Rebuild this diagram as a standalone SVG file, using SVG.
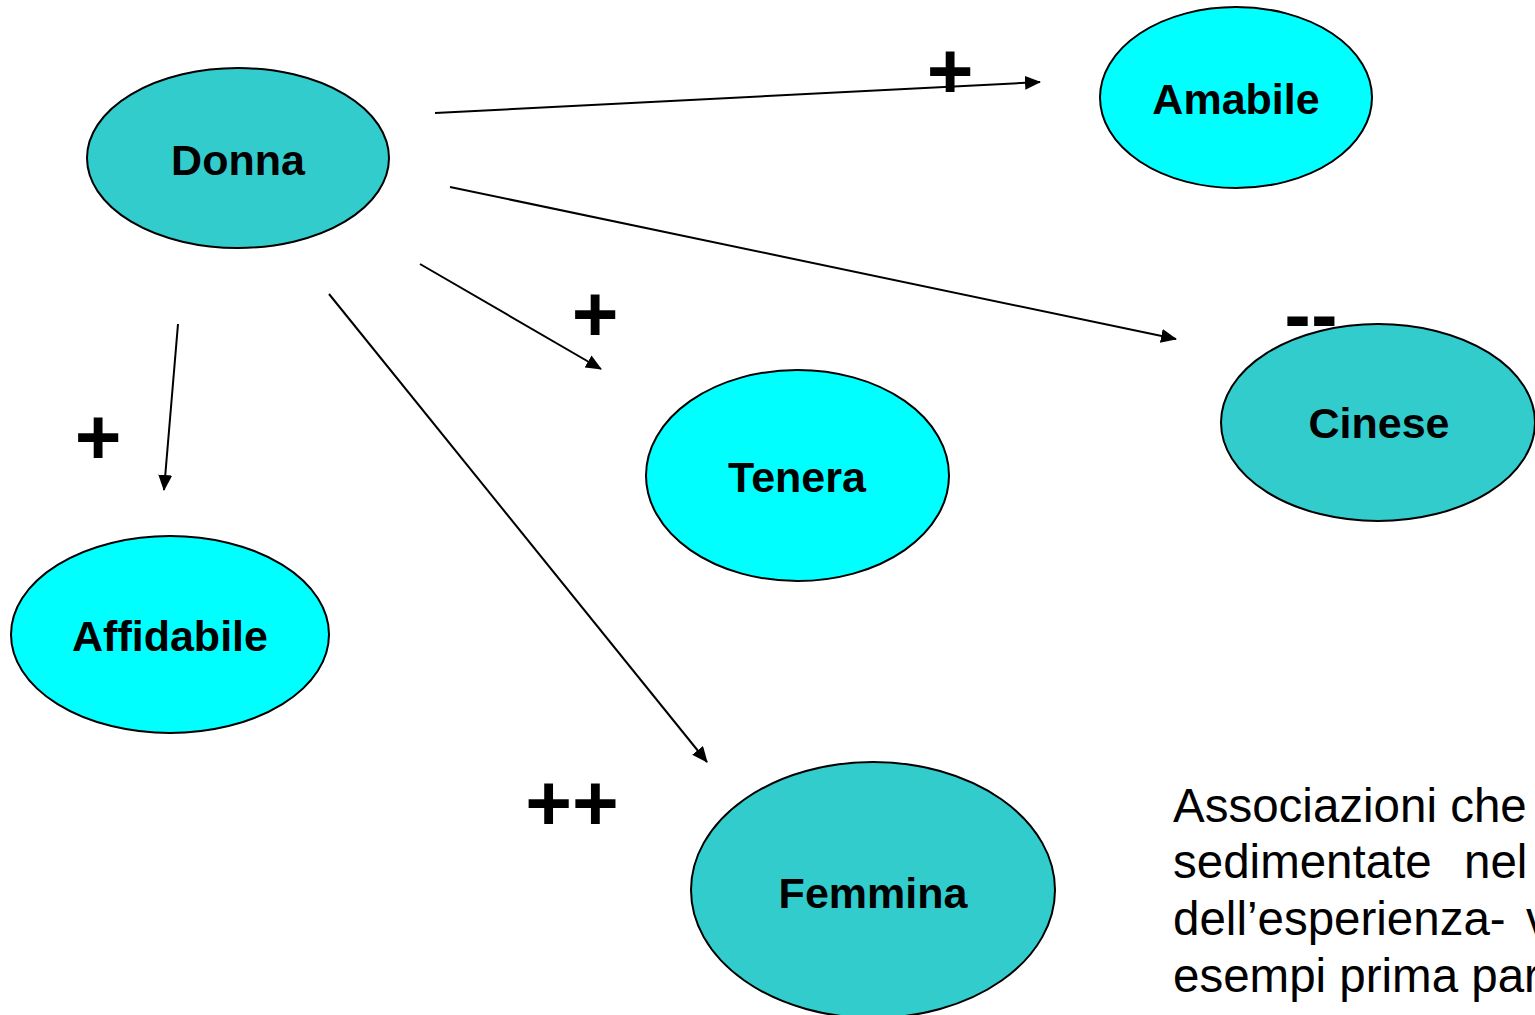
<svg xmlns="http://www.w3.org/2000/svg" width="1535" height="1015" viewBox="0 0 1535 1015">
<style>
.teal{fill:#33CCCC;stroke:#000;stroke-width:2}
.cyan{fill:#00FFFF;stroke:#000;stroke-width:2}
.lbl{font-family:"Liberation Sans",Arial,sans-serif;font-weight:bold;font-size:43px;text-anchor:middle;fill:#000}
.sign{font-family:"Liberation Sans",Arial,sans-serif;font-weight:bold;font-size:80px;text-anchor:middle;fill:#000}
.body{font-family:"Liberation Sans",Arial,sans-serif;font-size:47.5px;fill:#000}
.conn line{stroke:#000;stroke-width:2;marker-end:url(#arr)}
</style>
<defs>
<marker id="arr" markerUnits="userSpaceOnUse" markerWidth="16" markerHeight="14" refX="15" refY="7" orient="auto">
<path d="M0,0 L16,7 L0,14 Z" fill="#000"/>
</marker>
</defs>
<rect width="1535" height="1015" fill="#fff"/>
<g id="connectors" class="conn">
<line x1="435" y1="113" x2="1040" y2="82"/>
<line x1="450" y1="187" x2="1176" y2="339"/>
<line x1="420" y1="264" x2="601" y2="369"/>
<line x1="329" y1="294" x2="707" y2="762"/>
<line x1="178" y1="324" x2="164" y2="490"/>
</g>
<g id="donna"><ellipse class="teal" cx="238" cy="158" rx="151" ry="90"/><text class="lbl" x="238" y="175">Donna</text></g>
<g id="amabile"><ellipse class="cyan" cx="1236" cy="97.5" rx="136" ry="90.5"/><text class="lbl" x="1236" y="114">Amabile</text></g>
<g id="cinese"><ellipse class="teal" cx="1378" cy="422.5" rx="157" ry="98.5"/><text class="lbl" x="1379" y="438">Cinese</text></g>
<g id="tenera"><ellipse class="cyan" cx="797.5" cy="475.5" rx="151.5" ry="105.5"/><text class="lbl" x="797" y="492">Tenera</text></g>
<g id="affidabile"><ellipse class="cyan" cx="170" cy="634.5" rx="159" ry="98.5"/><text class="lbl" x="170" y="651">Affidabile</text></g>
<g id="femmina"><ellipse class="teal" cx="873" cy="890" rx="182" ry="128"/><text class="lbl" x="873" y="908">Femmina</text></g>
<g id="signs">
<text class="sign" x="950" y="98">+</text>
<text class="sign" x="595" y="341">+</text>
<text class="sign" x="98" y="464">+</text>
<text class="sign" x="572" y="830">++</text>
<text class="sign" x="1311" y="342">--</text>
</g>
<g id="note" class="body">
<text x="1173" y="822">Associazioni che</text>
<text y="878"><tspan x="1173">sedimentate</tspan><tspan x="1464">nel</tspan></text>
<text y="935"><tspan x="1173">dell’esperienza-</tspan><tspan x="1526">v</tspan></text>
<text x="1173" y="992">esempi prima par</text>
</g>
</svg>
